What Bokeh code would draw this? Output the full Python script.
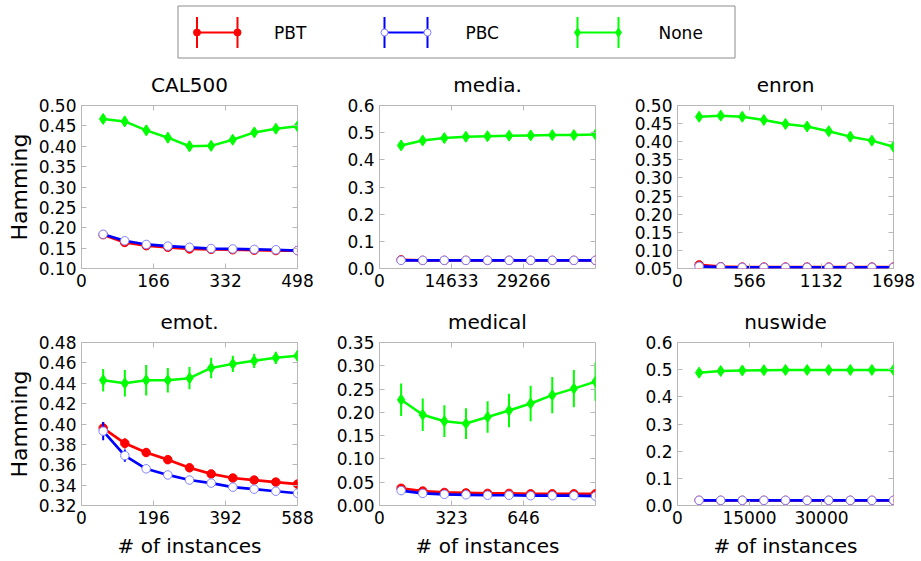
from bokeh.plotting import figure
from bokeh.layouts import column, row
from bokeh.models import Range1d, FixedTicker, PrintfTickFormatter, LinearAxis
from bokeh.embed import file_html
from bokeh.resources import INLINE
from bokeh.core.properties import value

FONT = "DejaVu Sans"
GRAY = "#b8b8b8"
RED = "#ff0000"
BLUE = "#0000ff"
BLUE_EDGE = "#8080ff"
GREEN = "#00ff00"

# ---------------- data ----------------
cal_x = [49.8, 99.6, 149.4, 199.2, 249.0, 298.8, 348.6, 398.4, 448.2, 498.0]
cal_none = [0.467, 0.461, 0.439, 0.421, 0.400, 0.401, 0.416, 0.434, 0.443, 0.449]
cal_none_err = [0.012, 0.012, 0.012, 0.013, 0.012, 0.012, 0.011, 0.011, 0.010, 0.010]
cal_pbt = [0.183, 0.164, 0.156, 0.152, 0.148, 0.147, 0.146, 0.145, 0.144, 0.144]
cal_pbt_err = [0.002] * 10
cal_pbc = [0.184, 0.168, 0.159, 0.155, 0.152, 0.149, 0.148, 0.147, 0.146, 0.144]
cal_pbc_err = [0.002] * 10

med_x = [4390, 8780, 13170, 17560, 21950, 26339, 30729, 35119, 39509, 43899]
med_none = [0.453, 0.471, 0.480, 0.485, 0.487, 0.489, 0.490, 0.491, 0.491, 0.493]
med_none_err = [0.012] * 10
med_pbt = [0.032, 0.030, 0.030, 0.030, 0.030, 0.030, 0.030, 0.030, 0.030, 0.030]
med_pbt_err = [0.001] * 10
med_pbc = [0.030, 0.030, 0.030, 0.030, 0.030, 0.030, 0.030, 0.030, 0.030, 0.030]
med_pbc_err = [0.001] * 10

enr_x = [170, 340, 509, 679, 849, 1019, 1189, 1358, 1528, 1698]
enr_none = [0.469, 0.472, 0.469, 0.460, 0.449, 0.442, 0.429, 0.414, 0.403, 0.386]
enr_none_err = [0.012] * 10
enr_pbt = [0.060, 0.055, 0.054, 0.054, 0.054, 0.054, 0.054, 0.054, 0.054, 0.054]
enr_pbt_err = [0.001] * 10
enr_pbc = [0.056, 0.054, 0.053, 0.053, 0.053, 0.053, 0.053, 0.053, 0.053, 0.053]
enr_pbc_err = [0.001] * 10

emo_x = [59, 118, 176, 235, 294, 353, 412, 470, 529, 588]
emo_none = [0.443, 0.440, 0.443, 0.443, 0.445, 0.455, 0.459, 0.462, 0.465, 0.467]
emo_none_err = [0.011, 0.013, 0.015, 0.012, 0.011, 0.010, 0.008, 0.007, 0.006, 0.005]
emo_pbt = [0.396, 0.381, 0.372, 0.365, 0.357, 0.351, 0.347, 0.345, 0.343, 0.341]
emo_pbt_err = [0.006, 0.005, 0.004, 0.004, 0.004, 0.003, 0.003, 0.003, 0.002, 0.002]
emo_pbc = [0.393, 0.369, 0.356, 0.350, 0.345, 0.342, 0.338, 0.336, 0.334, 0.332]
emo_pbc_err = [0.009, 0.006, 0.003, 0.003, 0.002, 0.002, 0.002, 0.002, 0.002, 0.002]

mdl_x = [97, 194, 291, 388, 485, 581, 678, 775, 872, 969]
mdl_none = [0.227, 0.195, 0.181, 0.176, 0.190, 0.204, 0.219, 0.237, 0.251, 0.266]
mdl_none_err = [0.035, 0.035, 0.034, 0.033, 0.034, 0.036, 0.038, 0.039, 0.040, 0.041]
mdl_pbt = [0.037, 0.031, 0.028, 0.027, 0.026, 0.026, 0.025, 0.025, 0.025, 0.025]
mdl_pbt_err = [0.002] * 10
mdl_pbc = [0.032, 0.026, 0.024, 0.023, 0.022, 0.022, 0.021, 0.021, 0.021, 0.020]
mdl_pbc_err = [0.002] * 10

nus_x = [4500, 9000, 13500, 18000, 22500, 27000, 31500, 36000, 40500, 45000]
nus_none = [0.489, 0.495, 0.497, 0.498, 0.499, 0.499, 0.499, 0.499, 0.499, 0.499]
nus_none_err = [0.012] * 10
nus_pbt = [0.019] * 10
nus_pbt_err = [0.001] * 10
nus_pbc = [0.019] * 10
nus_pbc_err = [0.001] * 10

titles = ["CAL500", "media.", "enron", "emot.", "medical", "nuswide"]
x_max = [498, 43899, 1698, 588, 969, 45000]
x_ticks = [[0, 166, 332, 498], [0, 14633, 29266], [0, 566, 1132, 1698],
           [0, 196, 392, 588], [0, 323, 646], [0, 15000, 30000]]
y_lim = [(0.10, 0.50), (0.0, 0.6), (0.05, 0.50), (0.32, 0.48), (0.0, 0.35), (0.0, 0.6)]
y_ticks = [[0.10, 0.15, 0.20, 0.25, 0.30, 0.35, 0.40, 0.45, 0.50],
           [0.0, 0.1, 0.2, 0.3, 0.4, 0.5, 0.6],
           [0.05, 0.10, 0.15, 0.20, 0.25, 0.30, 0.35, 0.40, 0.45, 0.50],
           [0.32, 0.34, 0.36, 0.38, 0.40, 0.42, 0.44, 0.46, 0.48],
           [0.00, 0.05, 0.10, 0.15, 0.20, 0.25, 0.30, 0.35],
           [0.0, 0.1, 0.2, 0.3, 0.4, 0.5, 0.6]]
y_fmt = ["%.2f", "%.1f", "%.2f", "%.2f", "%.2f", "%.1f"]
y_label = "Hamming"
x_label = "# of instances"
legend_names = ["PBT", "PBC", "None"]

series = [
    (cal_x, cal_pbt, cal_pbt_err, cal_pbc, cal_pbc_err, cal_none, cal_none_err),
    (med_x, med_pbt, med_pbt_err, med_pbc, med_pbc_err, med_none, med_none_err),
    (enr_x, enr_pbt, enr_pbt_err, enr_pbc, enr_pbc_err, enr_none, enr_none_err),
    (emo_x, emo_pbt, emo_pbt_err, emo_pbc, emo_pbc_err, emo_none, emo_none_err),
    (mdl_x, mdl_pbt, mdl_pbt_err, mdl_pbc, mdl_pbc_err, mdl_none, mdl_none_err),
    (nus_x, nus_pbt, nus_pbt_err, nus_pbc, nus_pbc_err, nus_none, nus_none_err),
]

# ---------------- layout geometry (page pixels) ----------------
col_w = [320, 305, 296]
col_bl = [81, 59, 52]
col_br = [23, 30, 28]
row_h = [235, 264]
row_bt = [42, 45]
row_bb = [29, 56]
LEG_H = 62


def err_lo(y, e):
    return [a - b for a, b in zip(y, e)]


def err_hi(y, e):
    return [a + b for a, b in zip(y, e)]


def tick_only_axis(ticks):
    # an axis that only draws inward tick marks (labels are not drawn)
    return LinearAxis(ticker=FixedTicker(ticks=ticks), major_label_text_font_size="1px",
                      major_label_text_color=None, major_tick_in=5, major_tick_out=0,
                      axis_line_color=None, major_tick_line_color=GRAY,
                      minor_tick_line_color=None, major_label_standoff=0)


def make_panel(i):
    r, c = divmod(i, 3)
    xs, pbt, pbt_e, pbc, pbc_e, non, non_e = series[i]
    p = figure(width=col_w[c], height=row_h[r],
               x_range=Range1d(0, x_max[i]), y_range=Range1d(*y_lim[i]),
               output_backend="svg", toolbar_location=None,
               min_border_left=col_bl[c], min_border_right=col_br[c],
               min_border_top=row_bt[r], min_border_bottom=row_bb[r])
    p.grid.visible = False
    p.outline_line_color = GRAY
    p.outline_line_width = 1
    p.background_fill_color = "white"
    p.border_fill_color = "white"
    p.title.text = titles[i]
    p.title.align = "center"
    p.title.text_font = FONT
    p.title.text_font_size = "20px"
    p.title.text_font_style = "normal"
    p.title.text_color = "black"
    p.title.standoff = 17

    xa = p.xaxis[0]
    xa.ticker = FixedTicker(ticks=x_ticks[i])
    ya = p.yaxis[0]
    ya.ticker = FixedTicker(ticks=y_ticks[i])
    ya.formatter = PrintfTickFormatter(format=y_fmt[i])
    for ax in (xa, ya):
        ax.axis_line_color = None
        ax.major_tick_in = 5
        ax.major_tick_out = 0
        ax.major_tick_line_color = GRAY
        ax.minor_tick_line_color = None
        ax.major_label_text_font = FONT
        ax.major_label_text_font_size = "17px"
        ax.major_label_text_color = "black"
        ax.major_label_standoff = 5
        ax.axis_label_text_font = FONT
        ax.axis_label_text_font_style = "normal"
        ax.axis_label_text_color = "black"
    if c == 0:
        ya.axis_label = y_label
        ya.axis_label_text_font_size = "22px"
        ya.axis_label_standoff = 4
    if r == 1:
        xa.axis_label = x_label
        xa.axis_label_text_font_size = "20px"
        xa.axis_label_standoff = 7
        xa.major_label_standoff = 5

    p.add_layout(tick_only_axis(x_ticks[i]), "above")
    p.add_layout(tick_only_axis(y_ticks[i]), "right")

    # PBT
    p.segment(x0=xs, x1=xs, y0=err_lo(pbt, pbt_e), y1=err_hi(pbt, pbt_e), line_color=RED, line_width=2)
    p.line(xs, pbt, line_color=RED, line_width=2.7)
    p.scatter(xs, pbt, marker="circle", size=8.5, fill_color=RED, line_color=RED)
    # PBC
    p.segment(x0=xs, x1=xs, y0=err_lo(pbc, pbc_e), y1=err_hi(pbc, pbc_e), line_color=BLUE, line_width=2)
    p.line(xs, pbc, line_color=BLUE, line_width=2.7)
    p.scatter(xs, pbc, marker="circle", size=8.5, fill_color="white", line_color=BLUE_EDGE, line_width=1)
    # None
    p.segment(x0=xs, x1=xs, y0=err_lo(non, non_e), y1=err_hi(non, non_e), line_color=GREEN, line_width=2)
    p.line(xs, non, line_color=GREEN, line_width=2.5)
    p.scatter(xs, non, marker="diamond", size=11, fill_color=GREEN, line_color=GREEN)
    return p


panels = [make_panel(i) for i in range(6)]

# ---------------- legend strip ----------------
LW = sum(col_w)
lg = figure(width=LW, height=LEG_H, x_range=Range1d(0, LW), y_range=Range1d(LEG_H, 0),
            output_backend="svg", toolbar_location=None, min_border=0)
lg.axis.visible = False
lg.grid.visible = False
lg.outline_line_color = None
lg.quad(left=[177.5], right=[734.5], top=[5.5], bottom=[57.5], fill_color=None,
        line_color="#8c8c8c", line_width=1)
leg_colors = [RED, BLUE, GREEN]
leg_left = [196.5, 384.0, 577.0]
leg_right = [237.0, 427.0, 618.0]
leg_text_x = [273.5, 465.0, 658.0]
ly, ly0, ly1 = 32.0, 16.5, 47.5
for k in range(3):
    xl, xr = leg_left[k], leg_right[k]
    lg.segment(x0=[xl, xr], x1=[xl, xr], y0=[ly0, ly0], y1=[ly1, ly1], line_color=leg_colors[k], line_width=2)
    lg.segment(x0=[xl], x1=[xr], y0=[ly], y1=[ly], line_color=leg_colors[k], line_width=2)
    if k == 0:
        lg.scatter([xl, xr], [ly, ly], marker="circle", size=7, fill_color=RED, line_color=RED)
    elif k == 1:
        lg.scatter([xl, xr], [ly, ly], marker="circle", size=7, fill_color="white", line_color=BLUE_EDGE)
    else:
        lg.scatter([xl, xr], [ly, ly], marker="diamond", size=9, fill_color=GREEN, line_color=GREEN)
lg.text(x=leg_text_x, y=[ly] * 3, text=legend_names, text_font=value(FONT),
        text_font_size="17px", text_baseline="middle", text_align="left", text_color="black")

layout = column(lg, row(*panels[:3]), row(*panels[3:]))

open("out.html", "w").write(file_html(layout, INLINE))
